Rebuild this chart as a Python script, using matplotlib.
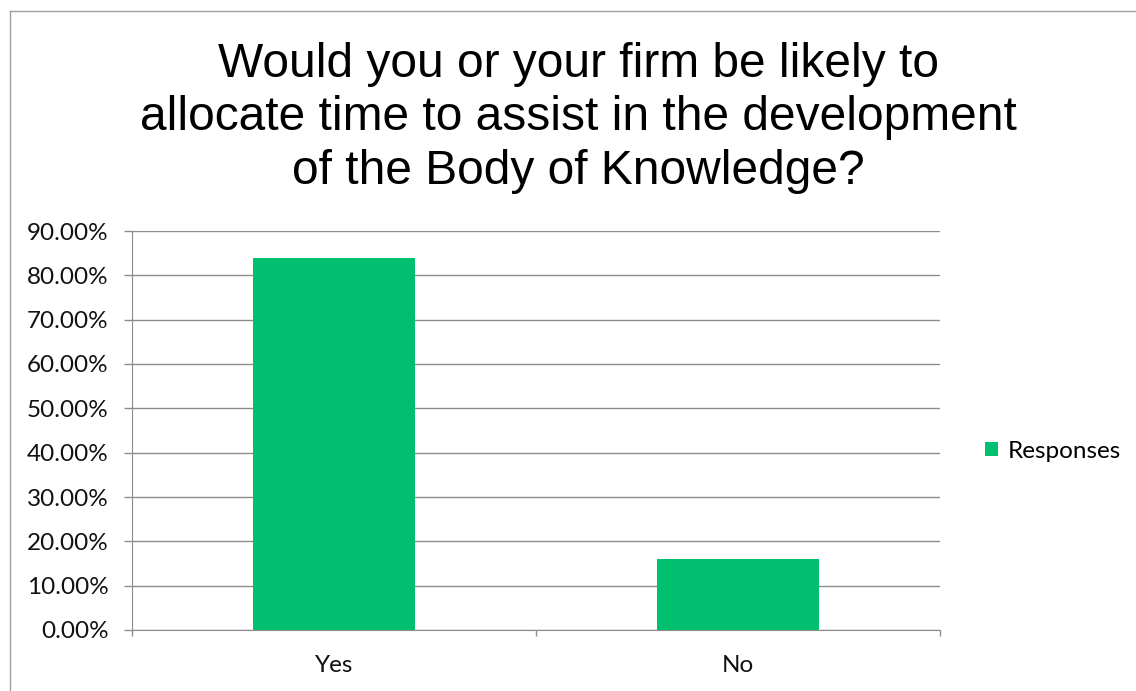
import matplotlib
matplotlib.use("Agg")
import matplotlib.pyplot as plt
from matplotlib.lines import Line2D
from matplotlib.ticker import FuncFormatter

categories = ["Yes", "No"]
responses = [84.0, 16.0]  # percent of respondents
y_ticks = [0, 10, 20, 30, 40, 50, 60, 70, 80, 90]

title = ("Would you or your firm be likely to\n"
         "allocate time to assist in the development\n"
         "of the Body of Knowledge?")

BAR_COLOR = "#00BF6F"
GRID_COLOR = "#8C8C8C"
TICK_FONT = "Lato"
TICK_SIZE = 17.5

W, H = 1136, 691
fig = plt.figure(figsize=(W / 100, H / 100), dpi=100)
fig.patch.set_facecolor("white")

# outer chart border (top and left edges visible)
fig.add_artist(Line2D([10 / W, 10 / W], [0, 1 - 11 / H], transform=fig.transFigure,
                      color="#A0A0A0", lw=1.0))
fig.add_artist(Line2D([10 / W, 1], [1 - 11 / H, 1 - 11 / H], transform=fig.transFigure,
                      color="#A0A0A0", lw=1.0))

ax = fig.add_axes([132 / W, 1 - 630 / H, (940 - 132) / W, (630 - 231) / H])

x = list(range(len(categories)))
bars = ax.bar(x, responses, width=0.4, color=BAR_COLOR, label="Responses", zorder=3)

ax.set_xlim(-0.5, len(categories) - 0.5)
ax.set_ylim(0, 90)
ax.set_yticks(y_ticks)
ax.yaxis.set_major_formatter(FuncFormatter(lambda v, _: f"{v:.2f}%"))
ax.yaxis.grid(True, color=GRID_COLOR, lw=1.0, zorder=0)

# category labels centred, ticks at the category boundaries
ax.set_xticks([i - 0.5 for i in range(len(categories) + 1)])
ax.set_xticklabels([])
ax.set_xticks(x, minor=True)
ax.set_xticklabels(categories, minor=True)
ax.tick_params(axis="x", which="minor", length=0, pad=18)
ax.tick_params(axis="x", which="major", length=4.5, color=GRID_COLOR, width=1.0)
ax.tick_params(axis="y", length=5.8, color=GRID_COLOR, width=1.0, pad=11)

for lab in ax.get_yticklabels() + ax.get_xticklabels(minor=True):
    lab.set_fontfamily(TICK_FONT)
    lab.set_fontsize(TICK_SIZE)
    lab.set_color("#111111")

for side in ["top", "right"]:
    ax.spines[side].set_visible(False)
ax.spines["left"].set_color(GRID_COLOR)
ax.spines["bottom"].set_color(GRID_COLOR)

fig.text(578 / W, 1 - 118 / H, title, ha="center", va="center",
         fontsize=34.5, family="Liberation Sans", linespacing=1.24)

fig.legend(handles=[bars], labels=["Responses"], loc="center left",
           bbox_to_anchor=(963 / W, 1 - 451 / H), frameon=False,
           handlelength=0.55, handleheight=0.55, handletextpad=0.4,
           prop={"family": TICK_FONT, "size": TICK_SIZE})

fig.savefig("out.png", dpi=100)
